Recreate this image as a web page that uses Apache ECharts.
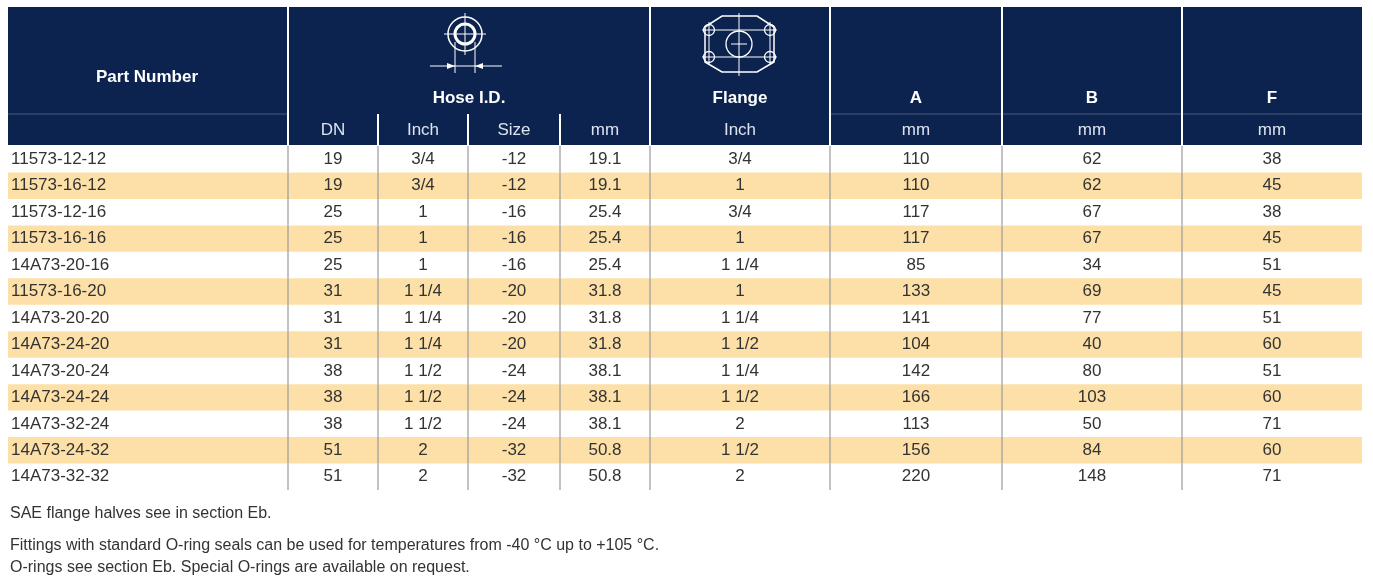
<!DOCTYPE html>
<html><head><meta charset="utf-8">
<script src="https://cdn.jsdelivr.net/npm/echarts@6/dist/echarts.min.js"></script>
<style>html,body{margin:0;background:#fff}#c{width:1373px;height:587px}</style>
</head><body><div id="c"></div>
<script>
const parts = ['11573-12-12','11573-16-12','11573-12-16','11573-16-16','14A73-20-16','11573-16-20','14A73-20-20','14A73-24-20','14A73-20-24','14A73-24-24','14A73-32-24','14A73-24-32','14A73-32-32'];
const dn = ['19','19','25','25','25','31','31','31','38','38','38','51','51'];
const hoseInch = ['3/4','3/4','1','1','1','1 1/4','1 1/4','1 1/4','1 1/2','1 1/2','1 1/2','2','2'];
const size = ['-12','-12','-16','-16','-16','-20','-20','-20','-24','-24','-24','-32','-32'];
const hoseMm = ['19.1','19.1','25.4','25.4','25.4','31.8','31.8','31.8','38.1','38.1','38.1','50.8','50.8'];
const flange = ['3/4','1','3/4','1','1 1/4','1','1 1/4','1 1/2','1 1/4','1 1/2','2','1 1/2','2'];
const dimA = ['110','110','117','117','85','133','141','104','142','166','113','156','220'];
const dimB = ['62','62','67','67','34','69','77','40','80','103','50','84','148'];
const dimF = ['38','45','38','45','51','45','51','60','51','60','71','60','71'];
const subHeads = ['DN','Inch','Size','mm','Inch','mm','mm','mm'];
const notes = ['SAE flange halves see in section Eb.','Fittings with standard O-ring seals can be used for temperatures from -40 °C up to +105 °C.','O-rings see section Eb. Special O-rings are available on request.'];

const cols = [parts, dn, hoseInch, size, hoseMm, flange, dimA, dimB, dimF];
const edges = [8, 288, 378, 468, 560, 650, 830, 1002, 1182, 1362];
const NAVY = '#0c2350', FONT = 'Liberation Sans';

let myChart = echarts.init(document.getElementById('c'));
const txt = (x, y, t, o) => Object.assign({type: 'text', x: x, y: y, style: Object.assign({text: t, fill: '#fff', font: '17px ' + FONT, align: 'center', verticalAlign: 'middle'}, o || {})});
const ln = (x1, y1, x2, y2, w, c) => ({type: 'line', shape: {x1: x1, y1: y1, x2: x2, y2: y2}, style: {stroke: c || '#fff', lineWidth: w || 1}});

let g = [{type: 'rect', shape: {x: 8, y: 7, width: 1354, height: 138}, style: {fill: NAVY}}];
// header separators
[288, 650, 830, 1002, 1182].forEach(x => g.push(ln(x, 7, x, 145, 2)));
[378, 468, 560].forEach(x => g.push(ln(x, 114, x, 145, 2)));
g.push(ln(8, 114, 288, 114, 1, 'rgba(255,255,255,0.25)'));
g.push(ln(830, 114, 1362, 114, 1, 'rgba(255,255,255,0.25)'));
g.push(txt(147, 77, 'Part Number', {font: 'bold 17px ' + FONT}));
g.push(txt(469, 98, 'Hose I.D.', {font: 'bold 17px ' + FONT}));
g.push(txt(740, 98, 'Flange', {font: 'bold 17px ' + FONT}));
['A', 'B', 'F'].forEach((t, i) => g.push(txt((edges[6 + i] + edges[7 + i]) / 2, 98, t, {font: 'bold 17px ' + FONT})));
subHeads.forEach((t, i) => g.push(txt((edges[1 + i] + edges[2 + i]) / 2, 130, t, {fill: '#dde3ee'})));
// hose icon
g.push({type: 'circle', shape: {cx: 465, cy: 34, r: 17}, style: {stroke: '#fff', fill: 'none', lineWidth: 1.5}});
g.push({type: 'circle', shape: {cx: 465, cy: 34, r: 10}, style: {stroke: '#fff', fill: 'none', lineWidth: 3}});
g.push(ln(465, 13, 465, 55, 1), ln(444, 34, 486, 34, 1));
g.push(ln(455, 42, 455, 73, 1), ln(475, 42, 475, 73, 1), ln(430, 66, 502, 66, 1));
g.push({type: 'polygon', shape: {points: [[447, 63], [455, 66], [447, 69]]}, style: {fill: '#fff'}});
g.push({type: 'polygon', shape: {points: [[483, 63], [475, 66], [483, 69]]}, style: {fill: '#fff'}});
// flange icon
g.push({type: 'polygon', shape: {points: [[722, 16], [757, 16], [774, 27], [774, 62], [757, 72], [722, 72], [705, 62], [705, 27]]}, style: {stroke: '#fff', fill: 'none', lineWidth: 1.5}});
[[709, 30], [770, 30], [709, 57], [770, 57]].forEach(p => g.push({type: 'circle', shape: {cx: p[0], cy: p[1], r: 5.5}, style: {stroke: '#fff', fill: 'none', lineWidth: 1.3}}));
g.push({type: 'circle', shape: {cx: 739, cy: 44, r: 13}, style: {stroke: '#fff', fill: 'none', lineWidth: 1.3}});
g.push(ln(702, 30, 777, 30, 1), ln(702, 57, 777, 57, 1), ln(709, 22, 709, 65, 1), ln(770, 22, 770, 65, 1), ln(739, 13, 739, 76, 1), ln(731, 44, 747, 44, 1));
notes.forEach((t, i) => g.push(txt(10, [514, 546, 568][i], t, {fill: '#333', align: 'left', font: '16px ' + FONT})));

let option = {
  animation: false,
  grid: {left: 8, top: 146, width: 1354, height: 344},
  xAxis: {type: 'value', min: 8, max: 1362, show: false},
  yAxis: {type: 'category', data: parts, inverse: true, show: false},
  graphic: g,
  series: [{
    type: 'custom',
    data: parts.map((p, i) => [0, i]),
    renderItem: function(params, api) {
      const r = api.value(1);
      const c0 = api.coord([edges[0], r]);
      const h = api.size([0, 1])[1];
      const top = c0[1] - h / 2;
      let children = [];
      if (r % 2 === 1) children.push({type: 'rect', shape: {x: edges[0], y: top, width: edges[9] - edges[0], height: h}, style: {fill: '#fde0a8'}});
      cols.forEach((col, j) => {
        const x = j === 0 ? api.coord([edges[0] + 3, r])[0] : api.coord([(edges[j] + edges[j + 1]) / 2, r])[0];
        children.push({type: 'text', x: x, y: c0[1], style: {text: col[r], fill: '#333', font: '17px ' + FONT, align: j === 0 ? 'left' : 'center', verticalAlign: 'middle'}});
        if (j > 0) children.push({type: 'line', shape: {x1: edges[j], y1: top, x2: edges[j], y2: top + h}, style: {stroke: '#999', lineWidth: 1.2}});
      });
      return {type: 'group', children: children};
    }
  }]
};
myChart.setOption(option);
window.addEventListener('resize', function() { myChart.resize() });
</script></body></html>
